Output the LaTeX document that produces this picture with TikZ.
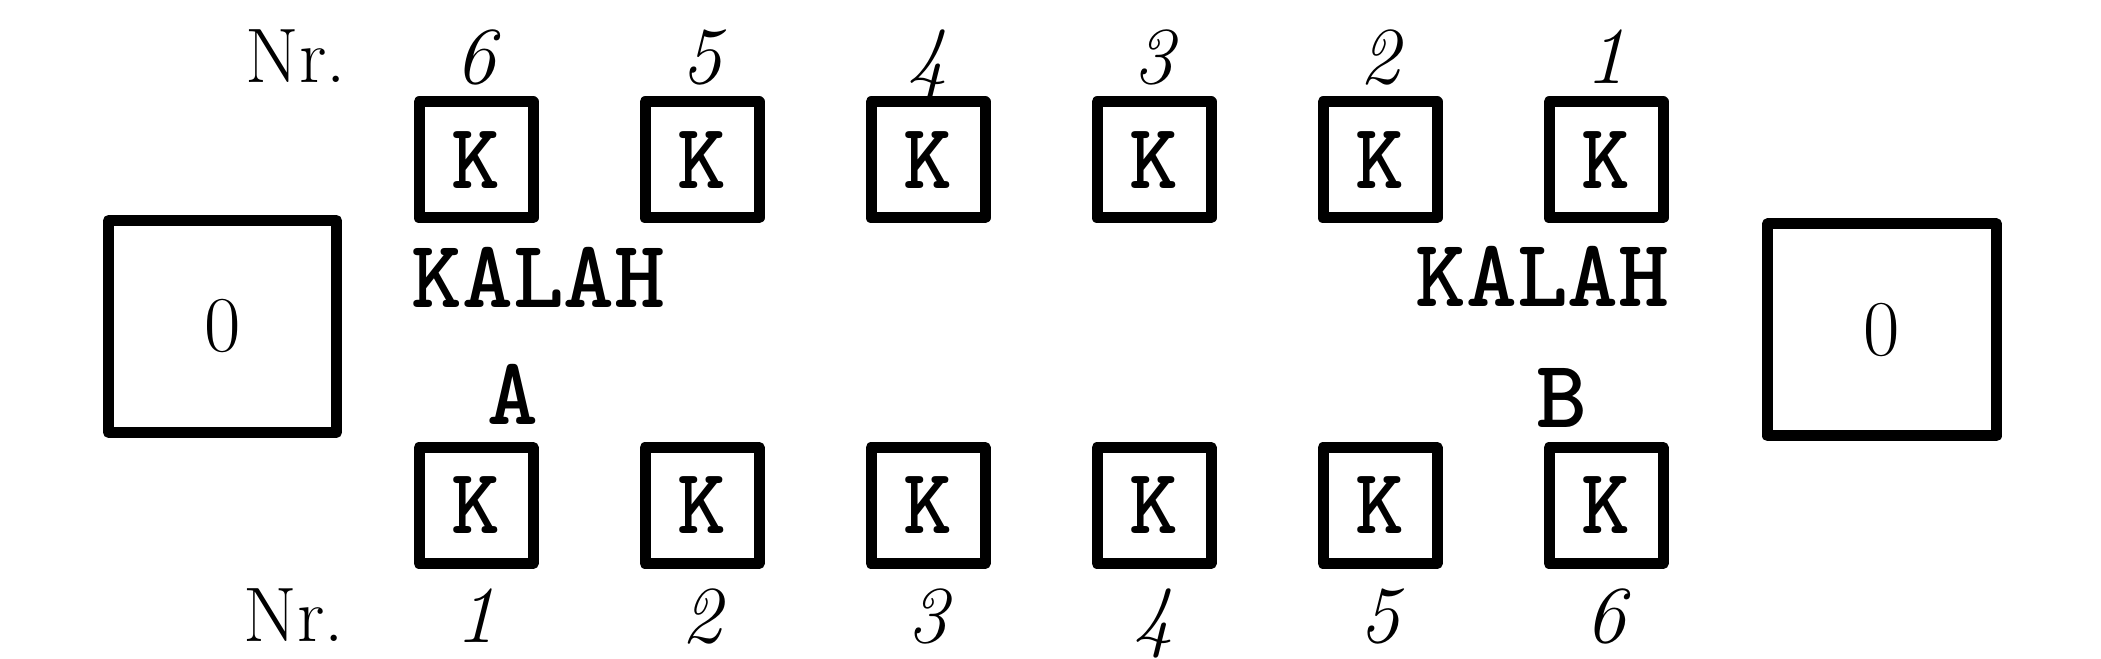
\documentclass[tikz,border=0pt]{standalone}
\usepackage{fontspec}
\usepackage{tikz}
\usetikzlibrary{positioning}
\tikzset{pit/.style={rectangle,draw=black,line width=0.11cm,line join=round,minimum width=1.14cm,minimum height=1.16cm,inner sep=0pt,font=\ttfamily\bfseries\fontsize{26.5}{30}\selectfont}}
\tikzset{store/.style={rectangle,draw=black,line width=0.11cm,line join=round,minimum width=2.28cm,minimum height=2.12cm,inner sep=0pt,font=\fontsize{22.5}{27}\selectfont}}
\tikzset{tag/.style={anchor=base,inner sep=0pt,font=\ttfamily\bfseries\fontsize{27.5}{32}\selectfont}}
\tikzset{nr/.style={anchor=base,inner sep=0pt,font=\fontsize{22}{26}\selectfont}}
\tikzset{pitno/.style={inner sep=0pt,font=\itshape\fontsize{23}{27}\selectfont}}

\begin{document}
\begin{tikzpicture}
\useasboundingbox (0,0) rectangle (21.01,6.59);
% \draw[help lines] (0,0) grid (21,6);
\node (storeL) [store] at (2.225,3.325) {0};
\node (storeR) [store,minimum width=2.29cm] at (18.82,3.29) {0};
%
\foreach \i in {1,...,6}{
  \node (t\i) [pit] at ({4.76+2.26*(6-\i)},4.99) {K};
  \node (tn\i) [pitno,above=0.13cm of t\i,anchor=base] {\i};
  \node (b\i) [pit] at ({4.76+2.26*(\i-1)},1.535) {K};
  \node (bn\i) [pitno,below=0.74cm of b\i,anchor=base] {\i};
}
%
\node (nrT) [nr] at (2.96,5.76) {Nr.};
\node (nrB) [nr] at (2.94,0.17) {Nr.};
\node (kalahL) [tag] at (5.385,3.51) {KALAH};
\node (kalahR) [tag] at (15.425,3.52) {KALAH};
\node (plA) [tag] at (5.13,2.34) {A};
\node (plB) [tag] at (15.62,2.31) {B};
\end{tikzpicture}
\end{document}
